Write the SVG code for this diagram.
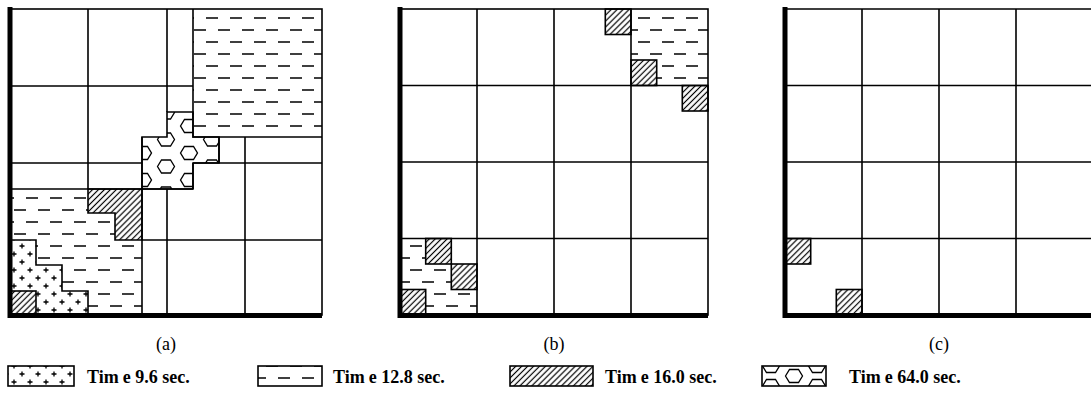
<svg xmlns="http://www.w3.org/2000/svg" width="1091" height="416" viewBox="0 0 1091 416">
<style>
.ln{fill:none;stroke:#000;stroke-width:1.6}
.thick{fill:none;stroke:#000;stroke-width:5}
.lab{font-family:"Liberation Serif",serif;font-size:18px;text-anchor:middle}
.leg{font-family:"Liberation Serif",serif;font-size:18px;font-weight:bold}
.hat{fill:url(#hatch);stroke:#000;stroke-width:1.6}
.wh{fill:#fff}
</style>
<defs>
<pattern id="hatch" patternUnits="userSpaceOnUse" width="4.2" height="4.2" patternTransform="rotate(45)">
<line x1="2.1" y1="0" x2="2.1" y2="4.2" stroke="#000" stroke-width="1.2"/>
</pattern>
<pattern id="dash" patternUnits="userSpaceOnUse" width="24" height="24">
<path d="M2,6 H14 M14,18 H26 M-10,18 H2" stroke="#000" stroke-width="1.6"/>
</pattern>
<pattern id="plus" patternUnits="userSpaceOnUse" width="16" height="16" x="2" y="2">
<path d="M4,1.5 V6.5 M1.5,4 H6.5 M12,9.5 V14.5 M9.5,12 H14.5" stroke="#000" stroke-width="1.3"/>
</pattern>
<pattern id="hex" patternUnits="userSpaceOnUse" width="46" height="27" x="143" y="153">
<g fill="none" stroke="#000" stroke-width="1.3">
<polygon points="-8.5,0 -4.5,-6.5 4.5,-6.5 8.5,0 4.5,6.5 -4.5,6.5"/>
<polygon points="37.5,0 41.5,-6.5 50.5,-6.5 54.5,0 50.5,6.5 41.5,6.5"/>
<polygon points="-8.5,27 -4.5,20.5 4.5,20.5 8.5,27 4.5,33.5 -4.5,33.5"/>
<polygon points="37.5,27 41.5,20.5 50.5,20.5 54.5,27 50.5,33.5 41.5,33.5"/>
<polygon points="14.5,13.5 18.5,7 27.5,7 31.5,13.5 27.5,20 18.5,20"/>
</g>
</pattern>
<pattern id="hexL" patternUnits="userSpaceOnUse" width="46" height="20" x="771" y="366">
<g fill="none" stroke="#000" stroke-width="1.3">
<polygon points="-8.5,0 -4.5,-6.5 4.5,-6.5 8.5,0 4.5,6.5 -4.5,6.5"/>
<polygon points="37.5,0 41.5,-6.5 50.5,-6.5 54.5,0 50.5,6.5 41.5,6.5"/>
<polygon points="-8.5,20 -4.5,13.5 4.5,13.5 8.5,20 4.5,26.5 -4.5,26.5"/>
<polygon points="37.5,20 41.5,13.5 50.5,13.5 54.5,20 50.5,26.5 41.5,26.5"/>
<polygon points="14.5,10 18.5,3.5 27.5,3.5 31.5,10 27.5,16.5 18.5,16.5"/>
</g>
</pattern>
</defs>
<rect width="1091" height="416" fill="#fff"/>

<g id="panel-a">
<rect x="193" y="9" width="129" height="128" fill="url(#dash)"/>
<polygon points="167,112 193,112 193,137 219,137 219,163 193,163 193,189 142,189 142,137 167,137" fill="url(#hex)"/>
<polygon points="10,189 88,189 88,213 115,213 115,240 142,240 142,315 10,315" fill="url(#dash)"/>
<polygon class="wh" points="10,240 36,240 36,265 62,265 62,291 88,291 88,315 10,315"/>
<polygon points="10,240 36,240 36,265 62,265 62,291 88,291 88,315 10,315" fill="url(#plus)"/>
<polygon class="wh" points="88,189 142,189 142,240 115,240 115,213 88,213"/>
<polygon class="hat" points="88,189 142,189 142,240 115,240 115,213 88,213"/>
<rect class="wh" x="10" y="291" width="26" height="24"/>
<rect class="hat" x="10" y="291" width="26" height="24"/>
<g class="ln">
<rect x="10" y="9" width="312" height="306"/>
<path d="M88,9 V189 M10,86 H193 M167,9 V112 M193,9 V137 H322 M10,163 H142 M193,163 H322 M10,189 H193 M142,137 V315 M167,189 V315 M142,240 H322 M245,137 V315 M219,137 V163 M193,163 V189"/>
<polygon points="167,112 193,112 193,137 219,137 219,163 193,163 193,189 142,189 142,137 167,137"/>
<polygon points="10,240 36,240 36,265 62,265 62,291 88,291 88,315 10,315"/>
</g>
<path class="thick" d="M10,7 V318 M7.5,315.5 H322"/>
</g>

<g id="panel-b">
<rect x="631" y="9" width="77" height="76.5" fill="url(#dash)"/>
<polygon points="400,238.5 425.7,238.5 425.7,264 451.3,264 451.3,289.5 477,289.5 477,315 400,315" fill="url(#dash)"/>
<g class="wh">
<rect x="605.3" y="9" width="25.7" height="25.5"/>
<rect x="631" y="60" width="25.7" height="25.5"/>
<rect x="682.3" y="85.5" width="25.7" height="25.5"/>
<rect x="425.7" y="238.5" width="25.6" height="25.5"/>
<rect x="451.3" y="264" width="25.7" height="25.5"/>
<rect x="400" y="289.5" width="25.7" height="25.5"/>
</g>
<g class="hat">
<rect x="605.3" y="9" width="25.7" height="25.5"/>
<rect x="631" y="60" width="25.7" height="25.5"/>
<rect x="682.3" y="85.5" width="25.7" height="25.5"/>
<rect x="425.7" y="238.5" width="25.6" height="25.5"/>
<rect x="451.3" y="264" width="25.7" height="25.5"/>
<rect x="400" y="289.5" width="25.7" height="25.5"/>
</g>
<g class="ln">
<rect x="400" y="9" width="308" height="306"/>
<path d="M477,9 V315 M554,9 V315 M631,9 V315 M400,85.5 H708 M400,162 H708 M400,238.5 H708"/>
</g>
<path class="thick" d="M400,7 V318 M397.5,315.5 H708"/>
</g>

<g id="panel-c">
<rect class="hat" x="785" y="238.5" width="25.7" height="25.5"/>
<rect class="hat" x="836.3" y="289.5" width="25.7" height="25.5"/>
<g class="ln">
<path d="M785,9 H1093 M862,9 V315 M939,9 V315 M1016,9 V315 M785,85.5 H1093 M785,162 H1093 M785,238.5 H1093"/>
</g>
<path class="thick" d="M785,7 V318 M782.5,315.5 H1093"/>
</g>

<g id="labels">
<text class="lab" x="166" y="350">(a)</text>
<text class="lab" x="554" y="350">(b)</text>
<text class="lab" x="939" y="350">(c)</text>
</g>

<g id="legend-plus">
<rect x="8" y="366" width="66" height="20" fill="url(#plus)" class="ln" style="fill:url(#plus)"/>
<text class="leg" x="87" y="383">Tim<tspan dx="4">e</tspan> 9.6 sec.</text>
</g>
<g id="legend-dash">
<rect x="258" y="366" width="64" height="20" fill="url(#dash)" class="ln" style="fill:url(#dash)"/>
<text class="leg" x="333" y="383">Tim<tspan dx="4">e</tspan> 12.8 sec.</text>
</g>
<g id="legend-hatch">
<rect class="hat" x="510" y="366" width="83" height="20"/>
<text class="leg" x="605" y="383">Tim<tspan dx="4">e</tspan> 16.0 sec.</text>
</g>
<g id="legend-hex">
<rect x="762" y="366" width="64" height="20" fill="url(#hexL)" class="ln" style="fill:url(#hexL)"/>
<text class="leg" x="849" y="383">Tim<tspan dx="4">e</tspan> 64.0 sec.</text>
</g>
</svg>
